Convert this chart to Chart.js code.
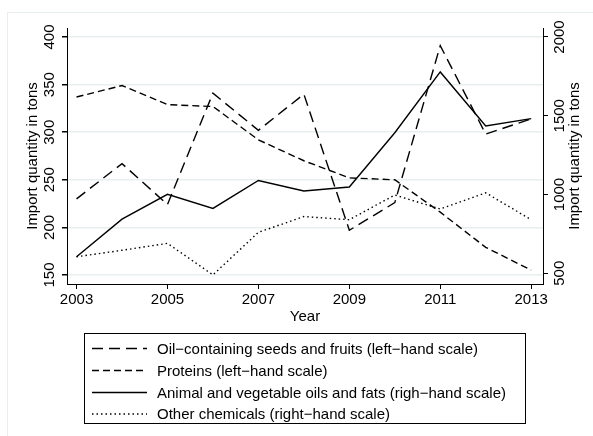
<!DOCTYPE html>
<html>
<head>
<meta charset="utf-8">
<script src="https://cdn.jsdelivr.net/npm/chart.js@4/dist/chart.umd.min.js"></script>
<style>
  html, body { margin: 0; padding: 0; background: #fff; }
  #wrap { position: relative; width: 593px; height: 436px; }
</style>
</head>
<body>
<div id="wrap"><canvas id="c" width="593" height="436"></canvas></div>
<script>
// Annual import quantities (tons), 2003–2013
const years = [2003, 2004, 2005, 2006, 2007, 2008, 2009, 2010, 2011, 2012, 2013];
const oilSeeds  = [230, 267, 224, 341, 302, 340, 197, 226, 391, 298, 314];        // left-hand scale
const proteins  = [337, 349, 329, 327, 292, 270, 252, 250, 216, 179, 155];        // left-hand scale
const oilsFats  = [605, 844, 1001, 912, 1089, 1022, 1048, 1392, 1778, 1435, 1482]; // right-hand scale
const otherChem = [605, 646, 690, 490, 760, 860, 840, 997, 908, 1011, 840];       // right-hand scale

const seriesLabels = [
  'Oil\u2212containing seeds and fruits (left\u2212hand scale)',
  'Proteins (left\u2212hand scale)',
  'Animal and vegetable oils and fats (righ\u2212hand scale)',
  'Other chemicals (right\u2212hand scale)'
];

const yearTicks  = [2003, 2005, 2007, 2009, 2011, 2013];
const leftTicks  = [150, 200, 250, 300, 350, 400];
const rightTicks = [500, 1000, 1500, 2000];

const axisTitle = 'Import quantity in tons';
const xTitle = 'Year';

const FONT = '"Liberation Sans", Arial, Helvetica, sans-serif';
const INK = '#000';

const pts = vals => vals.map((v, i) => ({ x: years[i], y: v }));

const lineStyles = [
  { dash: [11, 6], axis: 'yL' },
  { dash: [7, 4],  axis: 'yL' },
  { dash: [],      axis: 'yR' },
  { dash: [1.5, 3], axis: 'yR' }
];
const seriesValues = [oilSeeds, proteins, oilsFats, otherChem];

const datasets = seriesValues.map((vals, i) => ({
  label: seriesLabels[i],
  data: pts(vals),
  yAxisID: lineStyles[i].axis,
  borderColor: INK,
  borderWidth: 1.4,
  borderDash: lineStyles[i].dash,
  pointRadius: 0,
  tension: 0,
  fill: false
}));

// Frame, rotated axis labels, x-axis title and legend box
const decorations = {
  id: 'decorations',
  beforeDraw(chart) {
    const ctx = chart.ctx;
    ctx.save();
    ctx.fillStyle = '#fff';
    ctx.fillRect(0, 0, chart.width, chart.height);
    ctx.strokeStyle = '#e7eeef';
    ctx.lineWidth = 1;
    ctx.beginPath();
    ctx.moveTo(7.5, chart.height);
    ctx.lineTo(7.5, 12.5);
    ctx.lineTo(chart.width, 12.5);
    ctx.stroke();
    ctx.restore();
  },
  afterDraw(chart) {
    const ctx = chart.ctx;
    const yL = chart.scales.yL, yR = chart.scales.yR, x = chart.scales.x;
    const area = chart.chartArea;
    ctx.save();
    ctx.fillStyle = INK;
    ctx.font = '15px ' + FONT;
    ctx.textAlign = 'center';
    ctx.textBaseline = 'alphabetic';

    const vText = (txt, bx, cy) => {
      ctx.save();
      ctx.translate(bx, cy);
      ctx.rotate(-Math.PI / 2);
      ctx.fillText(txt, 0, 0);
      ctx.restore();
    };

    leftTicks.forEach(v => vText(String(v), 54, yL.getPixelForValue(v)));
    rightTicks.forEach(v => vText(String(v), 564, yR.getPixelForValue(v)));

    const midY = (area.top + area.bottom) / 2;
    vText(axisTitle, 37, midY);
    vText(axisTitle, 579, midY);

    ctx.fillText(xTitle, (area.left + area.right) / 2, 321);

    // legend
    const box = { l: 84.5, t: 333.5, r: 525.5, b: 423.5 };
    ctx.strokeStyle = INK;
    ctx.lineWidth = 1;
    ctx.strokeRect(box.l, box.t, box.r - box.l, box.b - box.t);
    const rowY = [348.5, 370.5, 392.5, 414];
    ctx.textAlign = 'left';
    ctx.textBaseline = 'middle';
    chart.data.datasets.forEach((ds, i) => {
      const y = rowY[i];
      ctx.save();
      ctx.setLineDash(ds.borderDash);
      ctx.lineWidth = ds.borderWidth;
      ctx.beginPath();
      ctx.moveTo(92, y);
      ctx.lineTo(147, y);
      ctx.stroke();
      ctx.restore();
      ctx.fillText(ds.label, 157, y + 1);
    });
    ctx.restore();
  }
};

new Chart(document.getElementById('c'), {
  type: 'line',
  data: { datasets },
  options: {
    responsive: false,
    animation: false,
    devicePixelRatio: 1,
    layout: { padding: { top: 28, left: 0, right: 0, bottom: 0 } },
    plugins: { legend: { display: false }, tooltip: { enabled: false } },
    scales: {
      x: {
        type: 'linear',
        position: 'bottom',
        min: 2002.79,
        max: 2013.26,
        afterBuildTicks: s => { s.ticks = yearTicks.map(v => ({ value: v })); },
        afterFit: s => { s.height = 152; },
        ticks: {
          color: INK,
          font: { family: FONT, size: 15 },
          padding: 2,
          maxRotation: 0,
          callback: v => String(v)
        },
        grid: { drawOnChartArea: false, tickLength: 5, tickColor: INK, lineWidth: 1 },
        border: { color: INK, width: 1 }
      },
      yL: {
        type: 'linear',
        position: 'left',
        min: 140.5,
        max: 409.5,
        afterBuildTicks: s => { s.ticks = leftTicks.map(v => ({ value: v })); },
        afterFit: s => { s.width = 67; },
        ticks: { display: false },
        grid: { color: '#e8eff0', lineWidth: 1.5, tickLength: 5, tickColor: INK },
        border: { color: INK, width: 1 }
      },
      yR: {
        type: 'linear',
        position: 'right',
        min: 432,
        max: 2057,
        afterBuildTicks: s => { s.ticks = rightTicks.map(v => ({ value: v })); },
        afterFit: s => { s.width = 50; },
        ticks: { display: false },
        grid: { drawOnChartArea: false, tickLength: 5, tickColor: INK, lineWidth: 1 },
        border: { color: INK, width: 1 }
      }
    }
  },
  plugins: [decorations]
});
</script>
</body>
</html>
